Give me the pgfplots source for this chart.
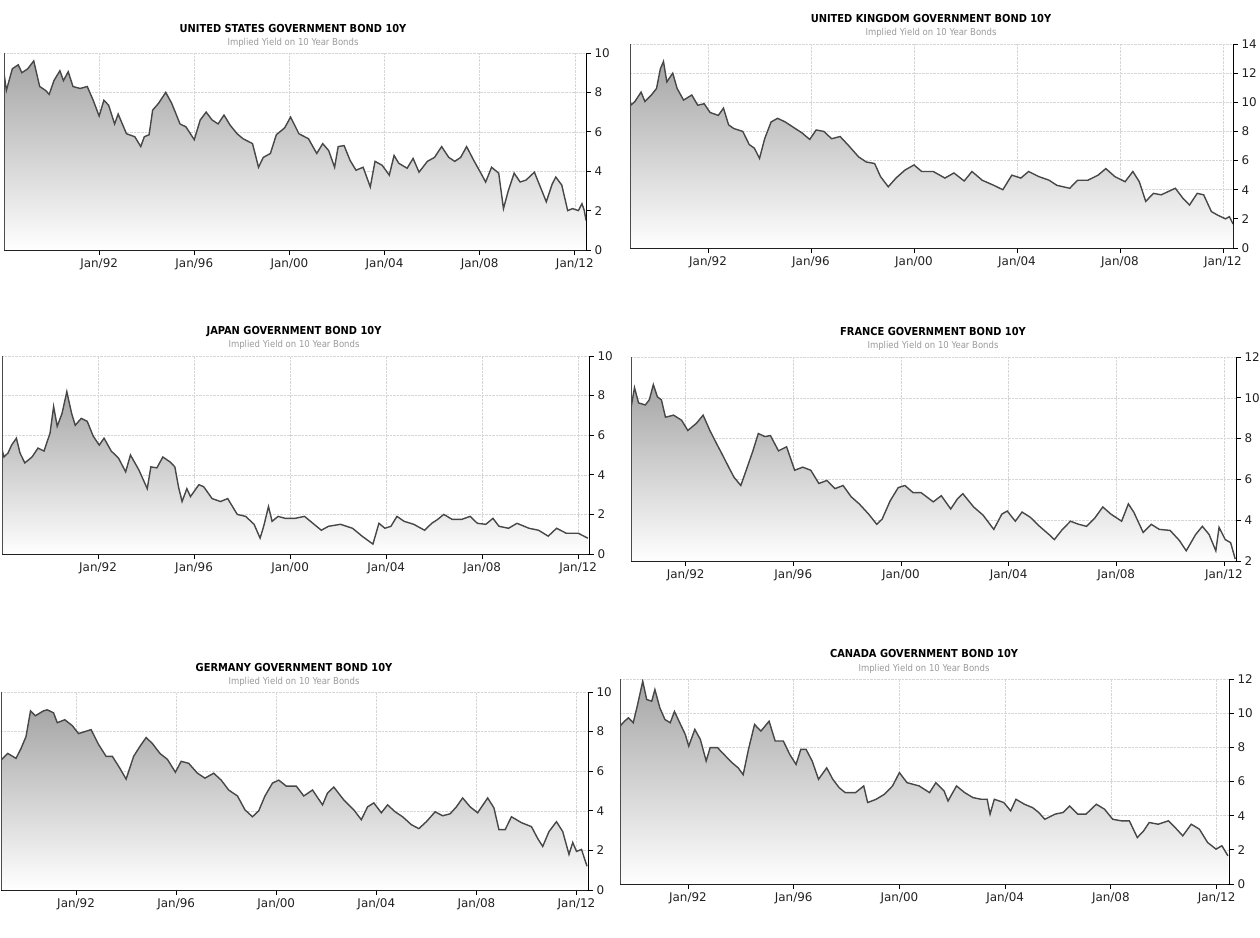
\documentclass[border=0pt]{standalone}
\usepackage{pgfplots}
\pgfplotsset{compat=1.18}
\usepackage{pgfplotstable}
\usepackage{fontspec}
\setmainfont{DejaVu Sans Condensed}
\newfontfamily\tickfont{DejaVu Sans}

\definecolor{curve}{HTML}{474747}
\definecolor{areatop}{HTML}{A6A6A6}
\definecolor{ticktext}{HTML}{222222}
\definecolor{subgray}{HTML}{9A9A9A}

\pgfplotsset{
  bond/.style={
    scale only axis, anchor=south west,
    axis x line*=bottom, axis y line*=right,
    axis line style={-, black, line width=1bp},
    tick align=outside, major tick length=5bp,
    tick style={black, line width=0.8bp},
    grid=major, major grid style={densely dotted, black!16, line width=0.6bp},
    xtick={1992,1996,2000,2004,2008,2012},
    xticklabels={Jan/92,Jan/96,Jan/00,Jan/04,Jan/08,Jan/12},
    tick label style={font=\tickfont\fontsize{12}{13}\selectfont, text=ticktext},
    /pgf/number format/assume math mode=true,
  },
  bondfill/.style={draw=none, shading=axis, top color=areatop, bottom color=white},
  bondline/.style={curve, line width=1.4bp, mark=none},
}
\tikzset{leftline/.style={black!70, line width=1bp}}
\newcommand{\bondtitle}[4]{%
  \node[font=\bfseries\fontsize{11}{12}\selectfont] at (#1bp,-#2bp) {#4};
  \node[font=\fontsize{9.5}{10}\selectfont, text=subgray] at (#1bp,-#3bp) {Implied Yield on 10 Year Bonds};}

% yields in percent, x = decimal year
\pgfplotstableread{
x y
1988.00 8.98
1988.10 8.10
1988.35 9.20
1988.60 9.40
1988.75 9.00
1989.00 9.20
1989.25 9.60
1989.50 8.30
1989.75 8.10
1989.90 7.90
1990.10 8.60
1990.35 9.10
1990.50 8.60
1990.70 9.05
1990.90 8.30
1991.20 8.20
1991.50 8.30
1991.75 7.60
1992.00 6.80
1992.20 7.60
1992.40 7.35
1992.65 6.40
1992.80 6.90
1993.15 5.90
1993.50 5.75
1993.75 5.25
1993.90 5.75
1994.10 5.85
1994.25 7.10
1994.50 7.45
1994.80 8.00
1995.05 7.45
1995.40 6.40
1995.65 6.25
1996.00 5.60
1996.25 6.60
1996.50 7.00
1996.75 6.60
1997.00 6.40
1997.25 6.85
1997.50 6.35
1997.80 5.90
1998.05 5.65
1998.45 5.40
1998.70 4.20
1998.90 4.70
1999.20 4.90
1999.45 5.85
1999.80 6.20
2000.05 6.75
2000.40 5.90
2000.80 5.65
2001.15 4.90
2001.40 5.40
2001.65 5.05
2001.90 4.20
2002.05 5.25
2002.30 5.30
2002.55 4.55
2002.80 4.05
2003.10 4.20
2003.40 3.20
2003.60 4.50
2003.90 4.30
2004.20 3.80
2004.40 4.80
2004.60 4.40
2004.95 4.15
2005.20 4.65
2005.45 3.95
2005.80 4.50
2006.10 4.70
2006.40 5.25
2006.70 4.70
2006.95 4.50
2007.20 4.70
2007.45 5.25
2007.75 4.55
2008.05 3.90
2008.25 3.45
2008.50 4.20
2008.80 3.90
2009.00 2.10
2009.20 3.00
2009.45 3.90
2009.70 3.45
2009.95 3.55
2010.30 3.95
2010.55 3.20
2010.80 2.45
2011.05 3.35
2011.20 3.70
2011.45 3.30
2011.70 2.00
2011.90 2.10
2012.15 2.00
2012.30 2.35
2012.40 2.00
2012.47 1.50
}\us

\pgfplotstableread{
x y
1988.97 10.20
1989.00 9.80
1989.16 10.05
1989.40 10.70
1989.55 10.05
1989.80 10.50
1990.00 10.95
1990.15 12.30
1990.27 12.80
1990.40 11.40
1990.63 12.00
1990.80 10.95
1991.05 10.15
1991.37 10.50
1991.60 9.80
1991.85 9.90
1992.08 9.30
1992.40 9.10
1992.60 9.60
1992.80 8.45
1993.00 8.20
1993.35 8.00
1993.60 7.10
1993.80 6.85
1994.00 6.15
1994.20 7.50
1994.45 8.65
1994.70 8.90
1995.00 8.65
1995.30 8.30
1995.65 7.90
1995.95 7.45
1996.20 8.10
1996.50 8.00
1996.80 7.50
1997.13 7.65
1997.45 7.05
1997.85 6.25
1998.15 5.90
1998.47 5.80
1998.70 4.90
1999.00 4.20
1999.30 4.80
1999.65 5.35
2000.00 5.70
2000.30 5.25
2000.75 5.25
2001.20 4.80
2001.55 5.15
2001.95 4.60
2002.25 5.25
2002.65 4.65
2003.10 4.30
2003.45 4.00
2003.80 5.00
2004.15 4.80
2004.45 5.25
2004.85 4.90
2005.25 4.65
2005.55 4.30
2006.05 4.10
2006.35 4.65
2006.75 4.65
2007.15 5.00
2007.45 5.45
2007.80 4.90
2008.20 4.55
2008.50 5.25
2008.75 4.55
2009.00 3.20
2009.30 3.75
2009.60 3.65
2010.15 4.10
2010.45 3.40
2010.70 2.95
2011.00 3.75
2011.25 3.65
2011.55 2.50
2011.80 2.25
2012.10 2.00
2012.25 2.15
2012.39 1.65
}\uk

\pgfplotstableread{
x y
1988.01 5.25
1988.08 4.90
1988.25 5.10
1988.40 5.50
1988.60 5.85
1988.75 5.10
1988.95 4.60
1989.25 4.90
1989.50 5.35
1989.75 5.20
1990.00 6.10
1990.15 7.45
1990.30 6.45
1990.50 7.10
1990.70 8.20
1990.90 7.10
1991.05 6.50
1991.30 6.85
1991.55 6.70
1991.80 5.95
1992.05 5.50
1992.25 5.85
1992.55 5.20
1992.85 4.85
1993.15 4.15
1993.35 5.00
1993.70 4.25
1994.05 3.30
1994.20 4.40
1994.45 4.35
1994.70 4.90
1995.00 4.65
1995.20 4.40
1995.35 3.40
1995.50 2.65
1995.70 3.30
1995.85 2.90
1996.20 3.50
1996.40 3.40
1996.75 2.80
1997.10 2.65
1997.40 2.80
1997.80 2.00
1998.15 1.90
1998.50 1.50
1998.75 0.80
1998.90 1.40
1999.10 2.40
1999.25 1.65
1999.50 1.90
1999.80 1.80
2000.20 1.80
2000.60 1.90
2000.95 1.55
2001.30 1.20
2001.60 1.40
2002.10 1.50
2002.60 1.30
2003.00 0.90
2003.45 0.50
2003.70 1.55
2003.95 1.30
2004.20 1.40
2004.45 1.90
2004.75 1.65
2005.15 1.50
2005.60 1.20
2005.90 1.55
2006.15 1.75
2006.40 2.00
2006.75 1.75
2007.15 1.75
2007.50 1.90
2007.80 1.55
2008.15 1.50
2008.45 1.80
2008.70 1.40
2009.10 1.30
2009.45 1.55
2009.95 1.30
2010.35 1.20
2010.75 0.90
2011.10 1.30
2011.50 1.05
2012.00 1.05
2012.40 0.80
}\jp

\pgfplotstableread{
x y
1989.97 9.50
1990.10 10.50
1990.25 9.75
1990.50 9.65
1990.65 9.90
1990.80 10.65
1990.95 10.05
1991.10 9.90
1991.25 9.05
1991.55 9.15
1991.85 8.90
1992.08 8.40
1992.40 8.75
1992.65 9.15
1992.90 8.40
1993.15 7.75
1993.35 7.25
1993.60 6.60
1993.80 6.10
1994.05 5.70
1994.25 6.45
1994.50 7.40
1994.70 8.25
1994.95 8.10
1995.15 8.15
1995.45 7.40
1995.75 7.60
1996.05 6.45
1996.35 6.60
1996.65 6.45
1996.95 5.80
1997.25 5.95
1997.55 5.55
1997.85 5.70
1998.15 5.15
1998.45 4.80
1998.80 4.30
1999.10 3.80
1999.30 4.05
1999.60 4.95
1999.90 5.60
2000.15 5.70
2000.45 5.35
2000.75 5.35
2001.20 4.90
2001.50 5.20
2001.85 4.55
2002.10 5.05
2002.30 5.30
2002.70 4.65
2003.05 4.25
2003.45 3.55
2003.75 4.30
2003.95 4.45
2004.25 3.95
2004.50 4.40
2004.80 4.15
2005.15 3.70
2005.50 3.30
2005.70 3.05
2006.00 3.55
2006.30 3.95
2006.60 3.80
2006.90 3.70
2007.20 4.10
2007.50 4.65
2007.80 4.30
2008.20 3.95
2008.45 4.80
2008.65 4.40
2009.00 3.40
2009.30 3.80
2009.60 3.55
2010.00 3.50
2010.35 3.00
2010.60 2.50
2010.95 3.30
2011.20 3.70
2011.45 3.30
2011.70 2.50
2011.82 3.65
2012.05 3.05
2012.25 2.90
2012.42 2.10
}\fr

\pgfplotstableread{
x y
1989.03 6.60
1989.27 6.90
1989.60 6.65
1989.80 7.15
1990.00 7.75
1990.18 9.05
1990.37 8.80
1990.70 9.05
1990.85 9.10
1991.10 8.95
1991.25 8.45
1991.55 8.60
1991.85 8.30
1992.10 7.90
1992.60 8.10
1992.90 7.35
1993.20 6.75
1993.45 6.75
1993.75 6.15
1994.00 5.60
1994.30 6.75
1994.55 7.25
1994.80 7.70
1995.05 7.40
1995.35 6.90
1995.65 6.60
1995.97 5.95
1996.20 6.50
1996.50 6.40
1996.85 5.90
1997.15 5.65
1997.50 5.90
1997.80 5.55
1998.10 5.05
1998.45 4.75
1998.75 4.05
1999.05 3.70
1999.30 4.00
1999.55 4.75
1999.85 5.40
2000.10 5.55
2000.40 5.25
2000.80 5.25
2001.10 4.75
2001.45 5.05
2001.85 4.30
2002.05 4.90
2002.30 5.20
2002.70 4.55
2003.10 4.05
2003.40 3.55
2003.65 4.20
2003.90 4.40
2004.20 3.90
2004.45 4.30
2004.75 3.95
2005.05 3.70
2005.40 3.30
2005.70 3.10
2006.00 3.45
2006.35 3.95
2006.65 3.75
2006.95 3.85
2007.20 4.20
2007.45 4.65
2007.75 4.20
2008.05 3.90
2008.45 4.65
2008.70 4.15
2008.90 3.05
2009.15 3.05
2009.40 3.70
2009.80 3.40
2010.20 3.20
2010.45 2.60
2010.65 2.20
2010.90 2.95
2011.20 3.45
2011.45 2.95
2011.70 1.80
2011.85 2.40
2012.00 1.95
2012.20 2.05
2012.42 1.20
}\de

\pgfplotstableread{
x y
1989.43 9.24
1989.60 9.53
1989.75 9.73
1989.93 9.44
1990.08 10.40
1990.29 11.87
1990.44 10.80
1990.63 10.70
1990.75 11.38
1990.94 10.30
1991.13 9.63
1991.33 9.44
1991.49 10.10
1991.72 9.34
1991.90 8.75
1992.03 8.07
1992.26 9.05
1992.47 8.46
1992.69 7.20
1992.84 7.98
1993.12 7.98
1993.36 7.59
1993.67 7.10
1993.90 6.80
1994.09 6.40
1994.29 7.88
1994.52 9.34
1994.76 8.95
1995.07 9.53
1995.30 8.37
1995.61 8.37
1995.85 7.59
1996.09 7.00
1996.27 7.88
1996.47 7.88
1996.70 7.20
1996.94 6.13
1997.25 6.80
1997.48 6.13
1997.72 5.64
1997.95 5.35
1998.34 5.35
1998.65 5.74
1998.80 4.77
1999.12 4.96
1999.43 5.25
1999.74 5.74
2000.00 6.52
2000.29 5.93
2000.75 5.74
2001.14 5.35
2001.38 5.93
2001.69 5.45
2001.84 4.86
2002.16 5.74
2002.47 5.35
2002.78 5.06
2003.09 4.96
2003.32 4.96
2003.43 4.09
2003.59 4.96
2003.95 4.77
2004.21 4.28
2004.41 4.96
2004.73 4.67
2005.04 4.47
2005.27 4.19
2005.50 3.79
2005.89 4.09
2006.20 4.19
2006.44 4.57
2006.75 4.09
2007.06 4.09
2007.45 4.67
2007.76 4.38
2008.07 3.79
2008.39 3.70
2008.70 3.70
2009.00 2.72
2009.24 3.11
2009.45 3.60
2009.79 3.50
2010.18 3.70
2010.49 3.21
2010.72 2.82
2011.04 3.50
2011.35 3.21
2011.66 2.43
2011.98 2.04
2012.20 2.24
2012.43 1.65
}\ca

\begin{document}
\begin{tikzpicture}
\useasboundingbox (0,0) rectangle (1260bp,-938bp);

% United States
\bondtitle{293}{29}{43}{UNITED STATES GOVERNMENT BOND 10Y}
\begin{axis}[bond, at={(4bp,-250bp)}, width=582bp, height=197bp,
  xmin=1988.0, xmax=2012.47, ymin=0, ymax=10, ytick={0,2,...,10}]
  \addplot[bondfill] table {\us} \closedcycle;
  \addplot[bondline] table {\us};
  \draw[leftline] (rel axis cs:0,0) -- (rel axis cs:0,1);
\end{axis}

% United Kingdom
\bondtitle{931}{19}{33}{UNITED KINGDOM GOVERNMENT BOND 10Y}
\begin{axis}[bond, at={(630bp,-248bp)}, width=603bp, height=204bp,
  xmin=1988.97, xmax=2012.39, ymin=0, ymax=14, ytick={0,2,...,14}]
  \addplot[bondfill] table {\uk} \closedcycle;
  \addplot[bondline] table {\uk};
  \draw[leftline] (rel axis cs:0,0) -- (rel axis cs:0,1);
\end{axis}

% Japan
\bondtitle{294}{332}{345}{JAPAN GOVERNMENT BOND 10Y}
\begin{axis}[bond, at={(2bp,-554bp)}, width=587bp, height=198bp,
  xmin=1988.0, xmax=2012.45, ymin=0, ymax=10, ytick={0,2,...,10}]
  \addplot[bondfill] table {\jp} \closedcycle;
  \addplot[bondline] table {\jp};
  \draw[leftline] (rel axis cs:0,0) -- (rel axis cs:0,1);
\end{axis}

% France
\bondtitle{933}{332}{346}{FRANCE GOVERNMENT BOND 10Y}
\begin{axis}[bond, at={(631bp,-561bp)}, width=605bp, height=204bp,
  xmin=1989.97, xmax=2012.45, ymin=2, ymax=12, ytick={2,4,...,12}]
  \addplot[bondfill] table {\fr} \closedcycle;
  \addplot[bondline] table {\fr};
  \draw[leftline] (rel axis cs:0,0) -- (rel axis cs:0,1);
\end{axis}

% Germany
\bondtitle{294}{668}{682}{GERMANY GOVERNMENT BOND 10Y}
\begin{axis}[bond, at={(1bp,-890bp)}, width=587bp, height=198bp,
  xmin=1989.0, xmax=2012.46, ymin=0, ymax=10, ytick={0,2,...,10}]
  \addplot[bondfill] table {\de} \closedcycle;
  \addplot[bondline] table {\de};
  \draw[leftline] (rel axis cs:0,0) -- (rel axis cs:0,1);
\end{axis}

% Canada
\bondtitle{924}{654}{669}{CANADA GOVERNMENT BOND 10Y}
\begin{axis}[bond, at={(620bp,-884bp)}, width=609bp, height=205bp,
  xmin=1989.43, xmax=2012.47, ymin=0, ymax=12, ytick={0,2,...,12}]
  \addplot[bondfill] table {\ca} \closedcycle;
  \addplot[bondline] table {\ca};
  \draw[leftline] (rel axis cs:0,0) -- (rel axis cs:0,1);
\end{axis}
\end{tikzpicture}
\end{document}
